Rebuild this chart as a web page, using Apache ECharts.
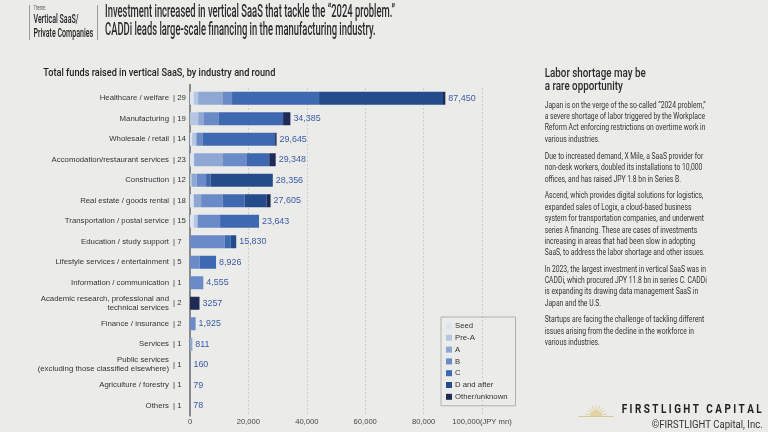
<!DOCTYPE html>
<html><head><meta charset="utf-8">
<script src="https://cdn.jsdelivr.net/npm/echarts@6/dist/echarts.min.js"></script>
<style>html,body{margin:0;padding:0;background:#ebecea}#c{width:768px;height:432px}</style>
</head><body><div id="c"></div>
<script>
// ---------------- data ----------------
const categories = [
  'Healthcare / welfare', 'Manufacturing', 'Wholesale / retail', 'Accomodation/restaurant services',
  'Construction', 'Real estate / goods rental', 'Transportation / postal service', 'Education / study support',
  'Lifestyle services / entertainment', 'Information / communication',
  'Academic research, professional and\ntechnical services', 'Finance / insurance', 'Services',
  'Public services\n(excluding those classified elsewhere)', 'Agriculture / forestry', 'Others'
];
const counts = [29, 19, 14, 23, 12, 18, 15, 7, 5, 1, 2, 2, 1, 1, 1, 1];
const roundNames = ['Seed', 'Pre-A', 'A', 'B', 'C', 'D and after', 'Other/unknown'];
const seed    = [1300,    0,   700, 1400,     0, 1300, 1300,     0,    0,    0,    0,    0,   0,   0,  0,  0];
const preA    = [1500, 2800,  1200,    0,   600,    0, 1300,     0,    0,    0,    0,    0,   0,   0,  0,  0];
const roundA  = [8300, 2000,   400, 9700,  1700, 2500,    0,     0,    0,    0,    0,    0, 811,   0,  0,  0];
const roundB  = [3300, 5100,  2100, 8200,  3200, 7400, 7700, 11930, 3300, 4555,    0, 1925,   0, 160, 79, 78];
const roundC  = [29800, 21985, 24745, 7850, 1500, 7500, 13343, 1950, 5626,   0,    0,    0,   0,   0,  0,  0];
const roundD  = [42450,    0,     0,    0, 21356, 7500,    0,  1950,    0,    0,    0,    0,   0,   0,  0,  0];
const other   = [800,  2500,   500, 2198,     0, 1405,    0,     0,    0,    0, 3257,    0,   0,   0,  0,  0];
const totalLabels = ['87,450', '34,385', '29,645', '29,348', '28,356', '27,605', '23,643', '15,830',
  '8,926', '4,555', '3257', '1,925', '811', '160', '79', '78'];
const xMax = 100000, xStep = 20000;
const roundColors = ['#dce4f1', '#b7c7e3', '#8ea7d3', '#6a8bc7', '#3e69b1', '#244c8b', '#1f2b55'];

// ---------------- helpers ----------------
const NARROW = '"Liberation Sans Narrow", "Liberation Sans", Arial, sans-serif';
const HEAD = 'Roboto, "Liberation Sans", sans-serif';
const mctx = document.createElement('canvas').getContext('2d');
function measure(text, font) { mctx.font = font; return mctx.measureText(text).width; }
function fitSize(text, family, weight, targetW, cap) {
  const s = 20 * targetW / measure(text, weight + ' 20px ' + family);
  return Math.min(cap, s);
}
function gtext(x, y, text, size, weight, family, color, refLine, targetW, lh, valign) {
  const sx = targetW / measure(refLine, weight + ' ' + size + 'px ' + family);
  return {
    type: 'text', x: x, y: y, scaleX: sx, silent: true,
    style: { text: text, fontSize: size, fontWeight: weight, fontFamily: family, fill: color,
      lineHeight: lh || size * 1.2, verticalAlign: valign || 'middle', align: 'left' }
  };
}

const catFont = fitSize('Accomodation/restaurant services', NARROW, 'normal', 110, 11) * 1.07;
const valFont = fitSize('87,450', NARROW, 'normal', 26, 13) * 1.05;
const axFont = fitSize('100,000(JPY mn)', NARROW, 'normal', 55, 10.5) * 1.08;
const legFont = fitSize('Other/unknown', NARROW, 'normal', 47, 10.5) * 1.12;

const roundData = [seed, preA, roundA, roundB, roundC, roundD, other];
const series = roundNames.map((n, i) => ({
  name: n, type: 'bar', stack: 'total', barWidth: 13,
  itemStyle: { color: roundColors[i] },
  emphasis: { disabled: true },
  data: roundData[i]
}));
series.push({
  name: 'total', type: 'bar', stack: 'total', barWidth: 13, silent: true,
  itemStyle: { color: 'rgba(0,0,0,0)' },
  data: categories.map(() => 0),
  label: { show: true, position: 'right', distance: 3, color: '#3b5ba5',
    fontFamily: NARROW, fontSize: valFont,
    formatter: p => totalLabels[p.dataIndex] }
});

const body = [
  { y: 105.3, t: 'Japan is on the verge of the so-called \u201c2024 problem,\u201d\na severe shortage of labor triggered by the Workplace\nReform Act enforcing restrictions on overtime work in\nvarious industries.' },
  { y: 156.7, t: 'Due to increased demand, X Mile, a SaaS provider for\nnon-desk workers, doubled its installations to 10,000\noffices, and has raised JPY 1.8 bn in Series B.' },
  { y: 196.0, t: 'Ascend, which provides digital solutions for logistics,\nexpanded sales of Logix, a cloud-based business\nsystem for transportation companies, and underwent\nseries A financing. These are cases of investments\nincreasing in areas that had been slow in adopting\nSaaS, to address the labor shortage and other issues.' },
  { y: 269.3, t: 'In 2023, the largest investment in vertical SaaS was in\nCADDi, which procured JPY 11.8 bn in series C. CADDi\nis expanding its drawing data management SaaS in\nJapan and the U.S.' },
  { y: 320.0, t: 'Startups are facing the challenge of tackling different\nissues arising from the decline in the workforce in\nvarious industries.' }
];
const bodyRef = 'Japan is on the verge of the so-called \u201c2024 problem,\u201d';
const LH = 11.4;

const graphic = [
  { type: 'line', silent: true, shape: { x1: 29.5, y1: 5, x2: 29.5, y2: 40 }, style: { stroke: '#9a9a9a', lineWidth: 1 } },
  { type: 'line', silent: true, shape: { x1: 97.5, y1: 5, x2: 97.5, y2: 40 }, style: { stroke: '#9a9a9a', lineWidth: 1 } },
  { type: 'line', silent: true, shape: { x1: 190, y1: 84, x2: 190, y2: 88 }, style: { stroke: '#6a6a6a', lineWidth: 1.5 } },
  gtext(33.5, 8, 'Theme:', 6.5, 'normal', HEAD, '#555', 'Theme:', 12.5),
  gtext(33.5, 20 - 7, 'Vertical SaaS/\nPrivate Companies', 12, 500, HEAD, '#222', 'Private Companies', 59.7, 14, 'top'),
  gtext(105, 12.5 - 9.1, 'Investment increased in vertical SaaS that tackle the \u201c2024 problem.\u201d\nCADDi leads large-scale financing in the manufacturing industry.',
    17.5, 500, HEAD, '#2b2b2b', 'Investment increased in vertical SaaS that tackle the \u201c2024 problem.\u201d', 290, 18.2, 'top'),
  gtext(43.3, 73.3, 'Total funds raised in vertical SaaS, by industry and round', 11.5, 500, HEAD, '#222',
    'Total funds raised in vertical SaaS, by industry and round', 232),
  gtext(544.7, 74 - 6.35, 'Labor shortage may be\na rare opportunity', 13, 500, HEAD, '#2b2b2b', 'Labor shortage may be', 101, 12.7, 'top'),
  { type: 'line', silent: true, shape: { x1: 578, y1: 416.5, x2: 614, y2: 416.5 }, style: { stroke: '#d9c99a', lineWidth: 1 } },
  { type: 'sector', silent: true, shape: { cx: 596, cy: 416, r0: 0, r: 6, startAngle: Math.PI, endAngle: 2 * Math.PI }, style: { fill: '#e3d3a2' } },
  gtext(621.7, 410, 'F I R S T L I G H T   C A P I T A L', 13, 'bold', HEAD, '#222', 'F I R S T L I G H T   C A P I T A L', 140),
  gtext(651.7, 425, '\u00a9FIRSTLIGHT Capital, Inc.', 10, 'normal', HEAD, '#333', '\u00a9FIRSTLIGHT Capital, Inc.', 111)
];
for (let a = 0; a < 9; a++) {
  const ang = Math.PI + (a + 0.5) * Math.PI / 9;
  graphic.push({ type: 'line', silent: true,
    shape: { x1: 596 + 6 * Math.cos(ang), y1: 416 + 6 * Math.sin(ang), x2: 596 + 11 * Math.cos(ang), y2: 416 + 11 * Math.sin(ang) },
    style: { stroke: '#dccb98', lineWidth: 0.8 } });
}
body.forEach(p => graphic.push(gtext(544.7, p.y - LH / 2, p.t, 9.5, 'normal', HEAD, '#333', bodyRef, 161, LH, 'top')));

const chart = echarts.init(document.getElementById('c'), null, { renderer: 'canvas' });
chart.setOption({
  backgroundColor: '#ebecea',
  animation: false,
  grid: { left: 190, right: 286, top: 88, bottom: 16, containLabel: false },
  legend: {
    data: roundNames, orient: 'vertical', left: 441, top: 317,
    itemWidth: 6, itemHeight: 6, itemGap: 3.8, icon: 'rect',
    padding: [5, 8, 5, 5], borderColor: '#b0b0b0', borderWidth: 1,
    textStyle: { color: '#333', fontFamily: NARROW, fontSize: legFont, padding: [0, 0, 0, -2] },
    selectedMode: false
  },
  xAxis: {
    type: 'value', min: 0, max: xMax, interval: xStep,
    axisLine: { show: false }, axisTick: { show: false },
    splitLine: { show: true, lineStyle: { color: '#c4c4c4', type: [2, 2], width: 0.8 } },
    axisLabel: { color: '#444', fontFamily: NARROW, fontSize: axFont, margin: 2,
      formatter: v => v === xMax ? v.toLocaleString('en-US') + '(JPY mn)' : v.toLocaleString('en-US') }
  },
  yAxis: [
    { type: 'category', inverse: true, data: categories,
      axisLine: { show: true, lineStyle: { color: '#6a6a6a', width: 1.5 } },
      axisTick: { show: false },
      axisLabel: { color: '#333', fontFamily: NARROW, fontSize: catFont, margin: 21, lineHeight: catFont * 1.15, align: 'right' } },
    { type: 'category', inverse: true, position: 'left', data: counts.map(c => '| ' + c),
      axisLine: { show: false }, axisTick: { show: false },
      axisLabel: { color: '#333', fontFamily: NARROW, fontSize: catFont, margin: 17, align: 'left' } }
  ],
  series: series,
  graphic: graphic
});
</script></body></html>
